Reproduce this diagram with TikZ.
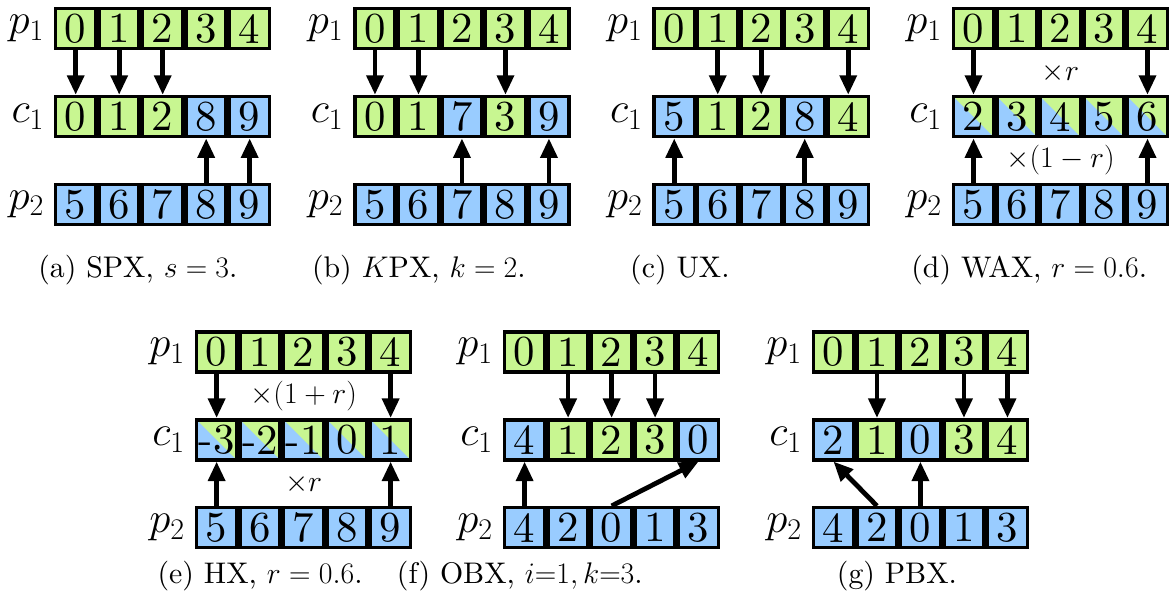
\documentclass[tikz,border=0pt]{standalone}
\usepackage{fix-cm}
\usepackage{amsmath,amssymb}
\usepackage{tikz}
\usetikzlibrary{arrows.meta}
% keep the 10pt design of Latin Modern at every size
\DeclareFontShape{TU}{lmr}{m}{n}{<-> "[lmroman10-regular]:+tlig;"}{}
\definecolor{genegreen}{RGB}{200,246,145}
\definecolor{geneblue}{RGB}{153,204,255}

\begin{document}
\begin{tikzpicture}[
  cell/.style={draw=black, line width=0.08cm, minimum size=0.92cm, inner sep=0pt, font=\fontsize{28}{28}\selectfont},
  gcell/.style={cell, fill=genegreen},
  bcell/.style={cell, fill=geneblue},
  mcell/.style={cell, fill=geneblue, path picture={\fill[genegreen] (path picture bounding box.north west) -- (path picture bounding box.north east) -- (path picture bounding box.south east) -- cycle;}},
  rowlabel/.style={anchor=east, inner sep=0pt, font=\fontsize{28}{28}\selectfont},
  link/.style={line width=0.11cm, -{Triangle[length=0.45cm, width=0.38cm]}},
  factor/.style={inner sep=0pt, font=\fontsize{19.5}{20}\selectfont},
  caption/.style={anchor=base, inner sep=0pt, font=\fontsize{19.5}{20}\selectfont}
]
  \useasboundingbox (0,0) rectangle (26.92,-13.93);

  % (a) single point
  \node[rowlabel] (a-p1) at (1.02,-0.66) {$p_1$};
  \node[rowlabel] (a-c1) at (1.02,-2.68) {$c_1$};
  \node[rowlabel] (a-p2) at (1.02,-4.70) {$p_2$};
  \node[gcell] (a-p1-0) at (1.74,-0.66) {0};
  \node[gcell] (a-p1-1) at (2.74,-0.66) {1};
  \node[gcell] (a-p1-2) at (3.74,-0.66) {2};
  \node[gcell] (a-p1-3) at (4.74,-0.66) {3};
  \node[gcell] (a-p1-4) at (5.74,-0.66) {4};
  \node[gcell] (a-c1-0) at (1.74,-2.68) {0};
  \node[gcell] (a-c1-1) at (2.74,-2.68) {1};
  \node[gcell] (a-c1-2) at (3.74,-2.68) {2};
  \node[bcell] (a-c1-3) at (4.74,-2.68) {8};
  \node[bcell] (a-c1-4) at (5.74,-2.68) {9};
  \node[bcell] (a-p2-0) at (1.74,-4.70) {5};
  \node[bcell] (a-p2-1) at (2.74,-4.70) {6};
  \node[bcell] (a-p2-2) at (3.74,-4.70) {7};
  \node[bcell] (a-p2-3) at (4.74,-4.70) {8};
  \node[bcell] (a-p2-4) at (5.74,-4.70) {9};
  \draw[link] (a-p1-0.south) -- (a-c1-0.north);
  \draw[link] (a-p1-1.south) -- (a-c1-1.north);
  \draw[link] (a-p1-2.south) -- (a-c1-2.north);
  \draw[link] (a-p2-3.north) -- (a-c1-3.south);
  \draw[link] (a-p2-4.north) -- (a-c1-4.south);
  \node[caption] (a-cap) at (3.17,-6.37) {(a) SPX, $s=3$.};

  % (b) k points
  \node[rowlabel] (b-p1) at (7.90,-0.66) {$p_1$};
  \node[rowlabel] (b-c1) at (7.90,-2.68) {$c_1$};
  \node[rowlabel] (b-p2) at (7.90,-4.70) {$p_2$};
  \node[gcell] (b-p1-0) at (8.62,-0.66) {0};
  \node[gcell] (b-p1-1) at (9.62,-0.66) {1};
  \node[gcell] (b-p1-2) at (10.62,-0.66) {2};
  \node[gcell] (b-p1-3) at (11.62,-0.66) {3};
  \node[gcell] (b-p1-4) at (12.62,-0.66) {4};
  \node[gcell] (b-c1-0) at (8.62,-2.68) {0};
  \node[gcell] (b-c1-1) at (9.62,-2.68) {1};
  \node[bcell] (b-c1-2) at (10.62,-2.68) {7};
  \node[gcell] (b-c1-3) at (11.62,-2.68) {3};
  \node[bcell] (b-c1-4) at (12.62,-2.68) {9};
  \node[bcell] (b-p2-0) at (8.62,-4.70) {5};
  \node[bcell] (b-p2-1) at (9.62,-4.70) {6};
  \node[bcell] (b-p2-2) at (10.62,-4.70) {7};
  \node[bcell] (b-p2-3) at (11.62,-4.70) {8};
  \node[bcell] (b-p2-4) at (12.62,-4.70) {9};
  \draw[link] (b-p1-0.south) -- (b-c1-0.north);
  \draw[link] (b-p1-1.south) -- (b-c1-1.north);
  \draw[link] (b-p1-3.south) -- (b-c1-3.north);
  \draw[link] (b-p2-2.north) -- (b-c1-2.south);
  \draw[link] (b-p2-4.north) -- (b-c1-4.south);
  \node[caption] (b-cap) at (9.63,-6.37) {(b) $K$PX, $k=2$.};

  % (c) uniform
  \node[rowlabel] (c-p1) at (14.78,-0.66) {$p_1$};
  \node[rowlabel] (c-c1) at (14.78,-2.68) {$c_1$};
  \node[rowlabel] (c-p2) at (14.78,-4.70) {$p_2$};
  \node[gcell] (c-p1-0) at (15.50,-0.66) {0};
  \node[gcell] (c-p1-1) at (16.50,-0.66) {1};
  \node[gcell] (c-p1-2) at (17.50,-0.66) {2};
  \node[gcell] (c-p1-3) at (18.50,-0.66) {3};
  \node[gcell] (c-p1-4) at (19.50,-0.66) {4};
  \node[bcell] (c-c1-0) at (15.50,-2.68) {5};
  \node[gcell] (c-c1-1) at (16.50,-2.68) {1};
  \node[gcell] (c-c1-2) at (17.50,-2.68) {2};
  \node[bcell] (c-c1-3) at (18.50,-2.68) {8};
  \node[gcell] (c-c1-4) at (19.50,-2.68) {4};
  \node[bcell] (c-p2-0) at (15.50,-4.70) {5};
  \node[bcell] (c-p2-1) at (16.50,-4.70) {6};
  \node[bcell] (c-p2-2) at (17.50,-4.70) {7};
  \node[bcell] (c-p2-3) at (18.50,-4.70) {8};
  \node[bcell] (c-p2-4) at (19.50,-4.70) {9};
  \draw[link] (c-p1-1.south) -- (c-c1-1.north);
  \draw[link] (c-p1-2.south) -- (c-c1-2.north);
  \draw[link] (c-p1-4.south) -- (c-c1-4.north);
  \draw[link] (c-p2-0.north) -- (c-c1-0.south);
  \draw[link] (c-p2-3.north) -- (c-c1-3.south);
  \node[caption] (c-cap) at (15.63,-6.37) {(c) UX.};

  % (d) weighted average
  \node[rowlabel] (d-p1) at (21.66,-0.66) {$p_1$};
  \node[rowlabel] (d-c1) at (21.66,-2.68) {$c_1$};
  \node[rowlabel] (d-p2) at (21.66,-4.70) {$p_2$};
  \node[gcell] (d-p1-0) at (22.38,-0.66) {0};
  \node[gcell] (d-p1-1) at (23.38,-0.66) {1};
  \node[gcell] (d-p1-2) at (24.38,-0.66) {2};
  \node[gcell] (d-p1-3) at (25.38,-0.66) {3};
  \node[gcell] (d-p1-4) at (26.38,-0.66) {4};
  \node[mcell] (d-c1-0) at (22.38,-2.68) {2};
  \node[mcell] (d-c1-1) at (23.38,-2.68) {3};
  \node[mcell] (d-c1-2) at (24.38,-2.68) {4};
  \node[mcell] (d-c1-3) at (25.38,-2.68) {5};
  \node[mcell] (d-c1-4) at (26.38,-2.68) {6};
  \node[bcell] (d-p2-0) at (22.38,-4.70) {5};
  \node[bcell] (d-p2-1) at (23.38,-4.70) {6};
  \node[bcell] (d-p2-2) at (24.38,-4.70) {7};
  \node[bcell] (d-p2-3) at (25.38,-4.70) {8};
  \node[bcell] (d-p2-4) at (26.38,-4.70) {9};
  \draw[link] (d-p1-0.south) -- (d-c1-0.north);
  \draw[link] (d-p1-4.south) -- (d-c1-4.north);
  \draw[link] (d-p2-0.north) -- (d-c1-0.south);
  \draw[link] (d-p2-4.north) -- (d-c1-4.south);
  \node[factor] (d-top) at (24.38,-1.67) {$\times r$};
  \node[factor] (d-bot) at (24.38,-3.69) {$\times(1-r)$};
  \node[caption] (d-cap) at (23.66,-6.37) {(d) WAX, $r=0.6$.};

  % (e) heuristic
  \node[rowlabel] (e-p1) at (4.26,-8.09) {$p_1$};
  \node[rowlabel] (e-c1) at (4.26,-10.11) {$c_1$};
  \node[rowlabel] (e-p2) at (4.26,-12.13) {$p_2$};
  \node[gcell] (e-p1-0) at (4.98,-8.09) {0};
  \node[gcell] (e-p1-1) at (5.98,-8.09) {1};
  \node[gcell] (e-p1-2) at (6.98,-8.09) {2};
  \node[gcell] (e-p1-3) at (7.98,-8.09) {3};
  \node[gcell] (e-p1-4) at (8.98,-8.09) {4};
  \node[mcell] (e-c1-0) at (4.98,-10.11) {-3};
  \node[mcell] (e-c1-1) at (5.98,-10.11) {-2};
  \node[mcell] (e-c1-2) at (6.98,-10.11) {-1};
  \node[mcell] (e-c1-3) at (7.98,-10.11) {0};
  \node[mcell] (e-c1-4) at (8.98,-10.11) {1};
  \node[bcell] (e-p2-0) at (4.98,-12.13) {5};
  \node[bcell] (e-p2-1) at (5.98,-12.13) {6};
  \node[bcell] (e-p2-2) at (6.98,-12.13) {7};
  \node[bcell] (e-p2-3) at (7.98,-12.13) {8};
  \node[bcell] (e-p2-4) at (8.98,-12.13) {9};
  \draw[link] (e-p1-0.south) -- (e-c1-0.north);
  \draw[link] (e-p1-4.south) -- (e-c1-4.north);
  \draw[link] (e-p2-0.north) -- (e-c1-0.south);
  \draw[link] (e-p2-4.north) -- (e-c1-4.south);
  \node[factor] (e-top) at (6.98,-9.10) {$\times(1+r)$};
  \node[factor] (e-bot) at (6.98,-11.12) {$\times r$};
  \node[caption] (e-cap) at (5.98,-13.42) {(e) HX, $r=0.6$.};

  % (f) order based
  \node[rowlabel] (f-p1) at (11.34,-8.09) {$p_1$};
  \node[rowlabel] (f-c1) at (11.34,-10.11) {$c_1$};
  \node[rowlabel] (f-p2) at (11.34,-12.13) {$p_2$};
  \node[gcell] (f-p1-0) at (12.06,-8.09) {0};
  \node[gcell] (f-p1-1) at (13.06,-8.09) {1};
  \node[gcell] (f-p1-2) at (14.06,-8.09) {2};
  \node[gcell] (f-p1-3) at (15.06,-8.09) {3};
  \node[gcell] (f-p1-4) at (16.06,-8.09) {4};
  \node[bcell] (f-c1-0) at (12.06,-10.11) {4};
  \node[gcell] (f-c1-1) at (13.06,-10.11) {1};
  \node[gcell] (f-c1-2) at (14.06,-10.11) {2};
  \node[gcell] (f-c1-3) at (15.06,-10.11) {3};
  \node[bcell] (f-c1-4) at (16.06,-10.11) {0};
  \node[bcell] (f-p2-0) at (12.06,-12.13) {4};
  \node[bcell] (f-p2-1) at (13.06,-12.13) {2};
  \node[bcell] (f-p2-2) at (14.06,-12.13) {0};
  \node[bcell] (f-p2-3) at (15.06,-12.13) {1};
  \node[bcell] (f-p2-4) at (16.06,-12.13) {3};
  \draw[link] (f-p1-1.south) -- (f-c1-1.north);
  \draw[link] (f-p1-2.south) -- (f-c1-2.north);
  \draw[link] (f-p1-3.south) -- (f-c1-3.north);
  \draw[link] (f-p2-0.north) -- (f-c1-0.south);
  \draw[link] (f-p2-2.north) -- (f-c1-4.south);
  \node[caption] (f-cap) at (11.95,-13.42) {(f) OBX, $i{=}1, k{=}3$.};

  % (g) position based
  \node[rowlabel] (g-p1) at (18.44,-8.09) {$p_1$};
  \node[rowlabel] (g-c1) at (18.44,-10.11) {$c_1$};
  \node[rowlabel] (g-p2) at (18.44,-12.13) {$p_2$};
  \node[gcell] (g-p1-0) at (19.16,-8.09) {0};
  \node[gcell] (g-p1-1) at (20.16,-8.09) {1};
  \node[gcell] (g-p1-2) at (21.16,-8.09) {2};
  \node[gcell] (g-p1-3) at (22.16,-8.09) {3};
  \node[gcell] (g-p1-4) at (23.16,-8.09) {4};
  \node[bcell] (g-c1-0) at (19.16,-10.11) {2};
  \node[gcell] (g-c1-1) at (20.16,-10.11) {1};
  \node[bcell] (g-c1-2) at (21.16,-10.11) {0};
  \node[gcell] (g-c1-3) at (22.16,-10.11) {3};
  \node[gcell] (g-c1-4) at (23.16,-10.11) {4};
  \node[bcell] (g-p2-0) at (19.16,-12.13) {4};
  \node[bcell] (g-p2-1) at (20.16,-12.13) {2};
  \node[bcell] (g-p2-2) at (21.16,-12.13) {0};
  \node[bcell] (g-p2-3) at (22.16,-12.13) {1};
  \node[bcell] (g-p2-4) at (23.16,-12.13) {3};
  \draw[link] (g-p1-1.south) -- (g-c1-1.north);
  \draw[link] (g-p1-3.south) -- (g-c1-3.north);
  \draw[link] (g-p1-4.south) -- (g-c1-4.north);
  \draw[link] (g-p2-1.north) -- (g-c1-0.south);
  \draw[link] (g-p2-2.north) -- (g-c1-2.south);
  \node[caption] (g-cap) at (20.62,-13.42) {(g) PBX.};
\end{tikzpicture}
\end{document}
